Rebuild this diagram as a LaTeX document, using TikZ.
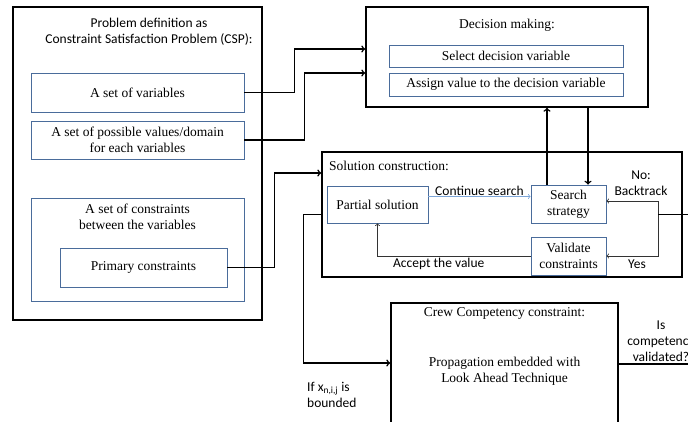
\documentclass[tikz,border=0pt]{standalone}
\usepackage{fontspec}
\setmainfont{Liberation Serif}
\newfontfamily\calfont{Carlito}
\usepackage{tikz}
\usetikzlibrary{calc}
\usetikzlibrary{arrows}
\usetikzlibrary{positioning}

\definecolor{boxblue}{HTML}{4A6C9B}
\definecolor{lineblue}{HTML}{7EA6D8}

\begin{document}
\begin{tikzpicture}[x=1pt, y=-1pt, font=\fontsize{13.5}{16}\selectfont,
  outer/.style={rectangle, draw=black, line width=1.5pt, inner sep=0pt},
  inner/.style={rectangle, draw=boxblue, line width=0.8pt, inner sep=0pt, align=center},
  label/.style={inner sep=1pt, align=center, font=\calfont\fontsize{13.5}{16}\selectfont},
  wire/.style={line width=1.5pt},
  thin wire/.style={line width=0.8pt, draw=black!80}]
 \clip (0, 0) rectangle (688, 421);
 % problem definition
 \node [outer, minimum width=249, minimum height=313] (csp) at (137.5, 163.5) {};
 \node [label] (cspt) at (149, 32) {Problem definition as\\Constraint Satisfaction Problem (CSP):};
 \node [inner, minimum width=213, minimum height=39] (var) at (137.5, 92.5) {A set of variables};
 \node [inner, minimum width=213, minimum height=38] (dom) at (137.5, 140) {A set of possible values/domain\\for each variables};
 \node [inner, minimum width=213, minimum height=103] (cons) at (137.5, 249.5) {};
 \node [align=center] (const) at (137.5, 217) {A set of constraints\\between the variables};
 \node [inner, minimum width=167, minimum height=39] (prim) at (143.5, 267.5) {Primary constraints};
 % decision making
 \node [outer, minimum width=282, minimum height=100] (dec) at (507, 57) {};
 \node (dect) at (507, 25) {Decision making:};
 \node [inner, minimum width=234, minimum height=22] (sel) at (506, 56) {Select decision variable};
 \node [inner, minimum width=234, minimum height=23] (asg) at (506, 84.5) {Assign value to the decision variable};
 % solution construction
 \node [outer, minimum width=360, minimum height=125] (sol) at (502, 214.5) {};
 \node [anchor=west, inner sep=0pt] (solt) at (329, 166) {Solution construction:};
 \node [inner, minimum width=101, minimum height=37] (part) at (377.5, 204.5) {Partial solution};
 \node [inner, minimum width=75, minimum height=38] (srch) at (568.5, 204) {Search\\strategy};
 \node [inner, minimum width=75, minimum height=38] (val) at (568.5, 256) {Validate\\constraints};
 \coordinate (fork) at (658, 214.5);
 % crew competency
 \node [outer, minimum width=227, minimum height=137] (crew) at (504.5, 371.5) {};
 \node (crewt) at (504.5, 313) {Crew Competency constraint:};
 \node [align=center] (prop) at (504.5, 371) {Propagation embedded with\\Look Ahead Technique};
 % connectors
 \draw [->, wire] (var.east) -- ++(50, 0) |- ([yshift=8pt]dec.west);
 \draw [->, wire] (dom.east) -- ++(60, 0) |- ([yshift=-16pt]dec.west);
 \draw [->, wire] (prim.east) -- ++(47, 0) |- ([yshift=41.5pt]sol.west);
 \draw [->, wire] ([xshift=-21.5pt]srch.north) -- ([xshift=-21.5pt]srch.north |- dec.south);
 \draw [->, wire] ([xshift=19.5pt]srch.north |- dec.south) -- ([xshift=19.5pt]srch.north);
 \draw [->, line width=0.8pt, draw=lineblue] ([yshift=8pt]part.east) -- ([yshift=8pt]part.east -| srch.west)
   node [label, midway, above] {Continue search};
 \draw [->, thin wire] (val.west) -| (part.south)
   node [label, pos=0.3, below=1pt] {Accept the value};
 \draw [->, thin wire] (fork) |- ([yshift=3pt]srch.east);
 \draw [->, thin wire] (fork) |- (val.east);
 \draw [wire] (fork) -- ++(40, 0);
 \node [label] (nob) at (641, 183) {No:\\Backtrack};
 \node [label] (yes) at (637, 264) {Yes};
 \draw [->, wire] (sol.west) -- ++(-18, 0) |- ([yshift=8.5pt]crew.west);
 \draw [wire] ([yshift=7.5pt]crew.east) -- ++(80, 0);
 \node [label, align=left, anchor=west] (bnd) at (306, 395) {If x\textsubscript{n,i,j} is\\bounded};
 \node [label] (isc) at (661, 341) {Is\\competency\\validated?};
\end{tikzpicture}
\end{document}
